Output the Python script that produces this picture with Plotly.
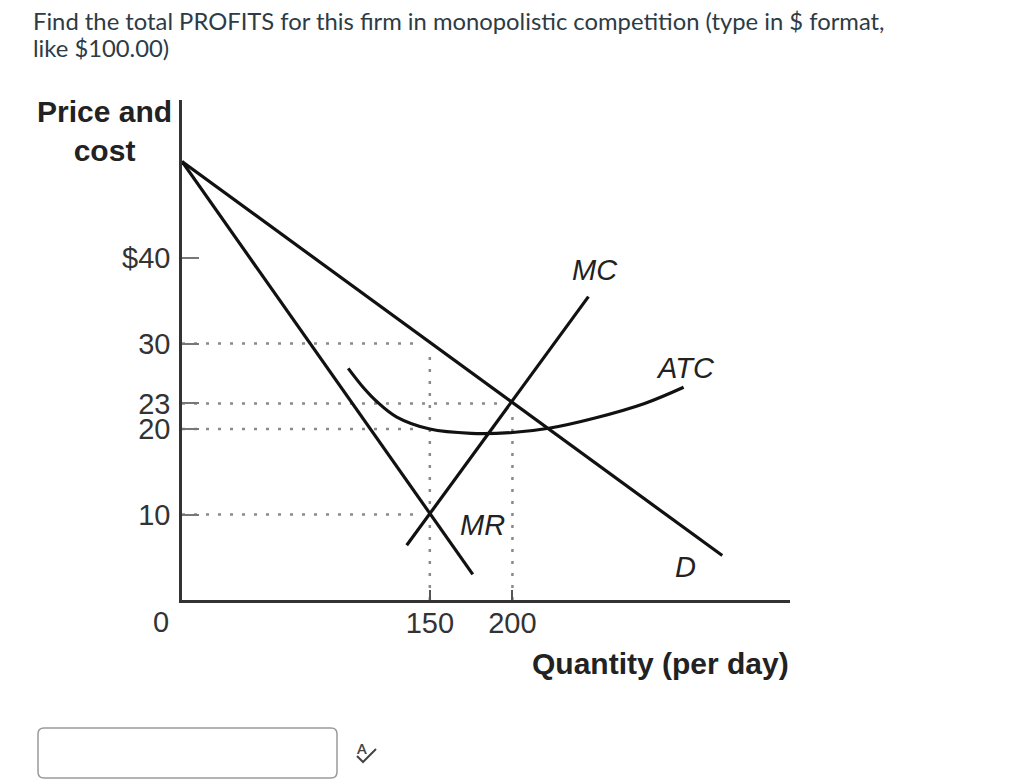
import plotly.graph_objects as go

# --- data ---
demand_q = [0, 327]
demand_p = [51.3, 5.2]

mr_q = [0, 176]
mr_p = [51.3, 3.0]

mc_q = [136, 246]
mc_p = [6.4, 35.5]

atc_q = [100.6, 110, 118, 130, 150, 175, 200, 222, 250, 280, 303.6]
atc_p = [27.1, 24.8, 23.2, 21.4, 20.0, 19.5, 19.6, 20.1, 21.3, 23.0, 24.9]

y_tick_vals = [40, 30, 23, 20, 10]
y_tick_text = ["$40", "30", "23", "20", "10"]
x_tick_vals = [150, 200]
x_tick_text = ["150", "200"]

# dotted guide lines: (price level, quantity where the dots stop)
h_guides = [(30, 143), (23, 196), (20, 142), (10, 143)]
# vertical guides: (quantity, price where the dots start)
v_guides = [(150, 29), (200, 21.5)]

curve_labels = [("MC", 250, 38.6), ("ATC", 305, 27.1), ("MR", 182, 8.8), ("D", 305, 3.9)]

CHART_FONT = "Liberation Sans, Arial, sans-serif"
W, H = 1024, 782
L, R, T, B = 182, 790, 100, 600


def fx(px):
    return (px - L) / (R - L)


def fy(py):
    return (B - py) / (B - T)


fig = go.Figure()

dot_style = dict(color="#8a8a8a", width=2.5, dash="3px,9px")
for p, q_end in h_guides:
    fig.add_trace(go.Scatter(x=[0, q_end], y=[p, p], mode="lines", line=dot_style,
                             hoverinfo="skip", showlegend=False))
for q, p_top in v_guides:
    fig.add_trace(go.Scatter(x=[q, q], y=[0, p_top], mode="lines", line=dot_style,
                             hoverinfo="skip", showlegend=False))

curve = dict(color="#111111", width=3.2)
fig.add_trace(go.Scatter(x=demand_q, y=demand_p, mode="lines", line=curve, name="D", showlegend=False))
fig.add_trace(go.Scatter(x=mr_q, y=mr_p, mode="lines", line=curve, name="MR", showlegend=False))
fig.add_trace(go.Scatter(x=mc_q, y=mc_p, mode="lines", line=curve, name="MC", showlegend=False))
fig.add_trace(go.Scatter(x=atc_q, y=atc_p, mode="lines", line=dict(curve, shape="spline", smoothing=1.0),
                         name="ATC", showlegend=False))

annotations = []
for txt, q, p in curve_labels:
    annotations.append(dict(x=q, y=p, xref="x", yref="y", text=f"<i>{txt}</i>", showarrow=False,
                            font=dict(family=CHART_FONT, size=29, color="#222")))

# origin label
annotations.append(dict(x=0, y=0, xref="x", yref="y", text="0", showarrow=False,
                        xshift=-21, yshift=-22, font=dict(family=CHART_FONT, size=29, color="#333")))

# axis titles
annotations.append(dict(x=fx(104), y=fy(131), xref="paper", yref="paper", xanchor="center",
                        yanchor="middle", text="<b>Price and</b><br><b>cost</b>", showarrow=False,
                        align="center", font=dict(family=CHART_FONT, size=30, color="#222")))
annotations.append(dict(x=fx(791), y=fy(663), xref="paper", yref="paper", xanchor="right",
                        yanchor="middle", text="<b>Quantity (per day)</b>", showarrow=False,
                        font=dict(family=CHART_FONT, size=30, color="#222")))

# question text
q_font = dict(family="Lato, sans-serif", size=23.8, color="#2d3b45")
annotations.append(dict(x=fx(31), y=fy(21), xref="paper", yref="paper", xanchor="left",
                        yanchor="middle",
                        text="Find the total PROFITS for this firm in monopolistic competition (type in $ format,",
                        showarrow=False, font=q_font))
annotations.append(dict(x=fx(31), y=fy(48), xref="paper", yref="paper", xanchor="left",
                        yanchor="middle", text="like $100.00)", showarrow=False, font=q_font))

# spell-check icon letter
annotations.append(dict(x=fx(361), y=fy(748), xref="paper", yref="paper", xanchor="center",
                        yanchor="middle", text="<b>A</b>", showarrow=False,
                        font=dict(family="Lato, sans-serif", size=14, color="#444")))

shapes = []
# answer input box with rounded corners
x0, x1, y0, y1, r = 38, 337, 728, 778, 6
box = (f"M {fx(x0 + r)} {fy(y0)} L {fx(x1 - r)} {fy(y0)} Q {fx(x1)} {fy(y0)} {fx(x1)} {fy(y0 + r)} "
       f"L {fx(x1)} {fy(y1 - r)} Q {fx(x1)} {fy(y1)} {fx(x1 - r)} {fy(y1)} "
       f"L {fx(x0 + r)} {fy(y1)} Q {fx(x0)} {fy(y1)} {fx(x0)} {fy(y1 - r)} "
       f"L {fx(x0)} {fy(y0 + r)} Q {fx(x0)} {fy(y0)} {fx(x0 + r)} {fy(y0)} Z")
shapes.append(dict(type="path", xref="paper", yref="paper", path=box,
                   line=dict(color="#9a9a9a", width=1.5), fillcolor="white"))
# check mark of the icon
check = f"M {fx(357)} {fy(756)} L {fx(363)} {fy(762)} L {fx(376)} {fy(749)}"
shapes.append(dict(type="path", xref="paper", yref="paper", path=check,
                   line=dict(color="#444", width=2)))

fig.update_layout(
    width=W, height=H,
    margin=dict(l=L, r=W - R, t=T, b=H - B),
    paper_bgcolor="white",
    plot_bgcolor="white",
    showlegend=False,
    annotations=annotations,
    shapes=shapes,
    xaxis=dict(range=[0, 368], showgrid=False, zeroline=False, showline=True,
               linecolor="#333", linewidth=2.5, tickmode="array",
               tickvals=x_tick_vals, ticktext=x_tick_text, ticks="inside", ticklen=10,
               tickwidth=2, tickcolor="#555", ticklabelstandoff=-5,
               tickfont=dict(family=CHART_FONT, size=29, color="#333"), fixedrange=True),
    yaxis=dict(range=[0, 58.5], showgrid=False, zeroline=False, showline=True,
               linecolor="#333", linewidth=2.5, tickmode="array",
               tickvals=y_tick_vals, ticktext=y_tick_text, ticks="inside", ticklen=17,
               tickwidth=2, tickcolor="#777", ticklabelstandoff=3,
               tickfont=dict(family=CHART_FONT, size=29, color="#333"), fixedrange=True),
)

# drop the browser's default page margin so the figure sits at the window's corner
fig.write_html("out.html", config={"displayModeBar": False},
               post_script="document.body.style.margin='0px';document.body.style.overflow='hidden';")
